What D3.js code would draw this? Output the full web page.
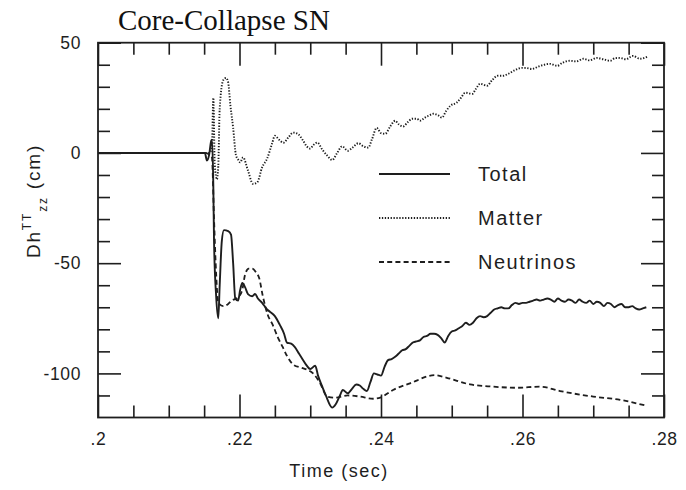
<!DOCTYPE html>
<html>
<head>
<meta charset="utf-8">
<script src="https://cdn.jsdelivr.net/npm/d3@7"></script>
<style>
  body { margin: 0; background: #fff; }
  svg { display: block; }
</style>
</head>
<body>
<div id="chart"></div>
<script>
// data (time in sec, Dh in cm)
const totalT = [0.2000, 0.2144, 0.2151, 0.2154, 0.2157, 0.2160, 0.2161, 0.2163, 0.2164, 0.2167, 0.2170, 0.2172, 0.2175, 0.2178,
  0.2184, 0.2188, 0.2191, 0.2194, 0.2198, 0.2201, 0.2204, 0.2208, 0.2212, 0.2218, 0.2222, 0.2226, 0.2232, 0.2239, 0.2243,
  0.2250, 0.2257, 0.2263, 0.2267, 0.2273, 0.2278, 0.2284, 0.2288, 0.2294, 0.2300, 0.2307, 0.2311, 0.2317, 0.2322, 0.2331,
  0.2336, 0.2342, 0.2346, 0.2353, 0.2359, 0.2365,
  0.2370, 0.2375, 0.2380, 0.2385, 0.2390, 0.2395, 0.2400, 0.2405, 0.2410, 0.2415, 0.2420, 0.2425, 0.2430, 0.2435, 0.2440,
  0.2445, 0.2450, 0.2455, 0.2460, 0.2465, 0.2470, 0.2475, 0.2480, 0.2485, 0.2490, 0.2495, 0.2500, 0.2505, 0.2510, 0.2515,
  0.2520, 0.2525, 0.2530, 0.2535, 0.2540, 0.2545, 0.2550, 0.2555, 0.2560, 0.2565, 0.2570, 0.2575, 0.2580, 0.2585, 0.2590,
  0.2595, 0.2600, 0.2605, 0.2610, 0.2615, 0.2620, 0.2625, 0.2630, 0.2635, 0.2640, 0.2645, 0.2650, 0.2655, 0.2660, 0.2665,
  0.2670, 0.2675, 0.2680, 0.2685, 0.2690, 0.2695, 0.2700, 0.2705, 0.2710, 0.2715, 0.2720, 0.2725, 0.2730, 0.2735, 0.2740,
  0.2745, 0.2750, 0.2755, 0.2760, 0.2765, 0.2770, 0.2775];
const totalV = [0, 0, 0, -3.5, -1, 5.5, 6, -15, -40, -65, -75, -60, -40, -35,
  -35.5, -37, -50, -66, -67, -62, -59, -61, -64, -65, -64, -66, -68, -71, -72,
  -74, -78, -82, -86, -86.5, -88, -91, -93, -96, -98, -96.5, -101, -106, -110, -115.5,
  -114, -110, -107.5, -109, -107, -105,
  -105.5, -107, -108, -104, -100, -100.5, -101, -97, -94, -93.5, -92.5, -91, -89.5, -89, -87.5,
  -86, -85.5, -85, -83.5, -83, -82, -82, -82.5, -84, -86, -83, -81, -80.5, -79.5, -78.5,
  -77, -78, -77, -75, -74, -74.5, -74, -72.5, -71, -70.5, -70, -70.5, -70.5, -69, -68,
  -68.5, -68, -68, -67.5, -67, -66.5, -67, -66.5, -66, -66.5, -67.5, -66, -67, -67.5, -66.5,
  -67, -68, -66.5, -67.5, -68, -67, -68.5, -67.5, -68, -69.5, -68, -68.5, -70, -69, -68.5,
  -70, -70, -69.5, -70.5, -71, -70.5, -70];

const matterT = [0.2000, 0.2151, 0.2157, 0.2161, 0.2163, 0.2165, 0.2168, 0.2170, 0.2172, 0.2177, 0.2181, 0.2184, 0.2187,
  0.2191, 0.2195, 0.2198, 0.2201, 0.2205, 0.2212, 0.2219, 0.2225, 0.2232, 0.2239, 0.2246, 0.2250, 0.2256, 0.2262, 0.2269,
  0.2276, 0.2283, 0.2290, 0.2295, 0.2300, 0.2304, 0.2310, 0.2317, 0.2324, 0.2331, 0.2338, 0.2345, 0.2353, 0.2360, 0.2368,
  0.2375, 0.2382, 0.2387, 0.2394, 0.2400, 0.2406, 0.2413, 0.2420, 0.2425, 0.2431, 0.2438, 0.2444, 0.2451, 0.2455, 0.2462,
  0.2468, 0.2474, 0.2481, 0.2486, 0.2492, 0.2498, 0.2507, 0.2513, 0.2519, 0.2529, 0.2534, 0.2540, 0.2550, 0.2557, 0.2565,
  0.2572, 0.2580, 0.2589, 0.2599, 0.2606, 0.2613, 0.2625, 0.2639, 0.2649, 0.2657, 0.2667, 0.2676, 0.2686, 0.2695, 0.2705,
  0.2714, 0.2724, 0.2731, 0.2738, 0.2746, 0.2756, 0.2766, 0.2776];
const matterV = [0, 0, 0, 2, 25, -5, -12, -6, 20, 33, 34, 32, 22,
  11.5, -1, -3, -4.3, -2, -8, -14, -13.4, -6.5, -2.6, 4.2, 7.8, 6, 4.6, 7,
  9.2, 8.5, 5.5, 3, 2, 3.5, 4.7, 1.5, -1.2, -3.2, 0, 3, 1, 2.5, 4.4,
  3, 2.4, 6, 11.4, 9, 8.7, 12, 14.6, 13, 12, 14, 15.5, 15.5, 14.6, 16,
  17, 17.8, 17, 16, 19, 21.4, 22.8, 25, 27.3, 26.8, 29, 31.4, 30.5, 33, 35,
  35, 35.9, 37.5, 38.6, 38.5, 38.1, 39.5, 40.4, 39.5, 41, 41.8, 41.5, 42.7, 42, 43.1,
  42.5, 41.8, 43, 43.1, 42.5, 44, 42.7, 43.6];

const neutrinoT = [0.2000, 0.2151, 0.2161, 0.2164, 0.2167, 0.2170, 0.2177, 0.2184, 0.2189, 0.2198, 0.2204, 0.2208, 0.2213,
  0.2218, 0.2223, 0.2228, 0.2233, 0.2240, 0.2247, 0.2254, 0.2261, 0.2267, 0.2276, 0.2288, 0.2297, 0.2304, 0.2314, 0.2324,
  0.2335, 0.2353, 0.2370, 0.2389, 0.2399, 0.2417, 0.2441, 0.2476, 0.2493, 0.2526, 0.2558, 0.2592, 0.2625, 0.2653, 0.2700,
  0.2738, 0.2773];
const neutrinoV = [0, 0, -2, -30, -55, -68, -69.5, -68.5, -67, -65.5, -62, -55, -52.5,
  -52.5, -54, -57, -65, -73.5, -78, -83.5, -88, -92, -96, -97.5, -98.5, -100, -104.5, -110.5,
  -111, -110, -110.5, -111.5, -111, -107.5, -104.5, -100.8, -102, -105, -106, -106.5, -106, -108, -110.5,
  -112, -114.5];

const seriesNames = ["Total", "Matter", "Neutrinos"];
const xMajor = [0.2, 0.22, 0.24, 0.26, 0.28];
const xLabels = [".2", ".22", ".24", ".26", ".28"];
const xMinor = [0.205, 0.21, 0.215, 0.225, 0.23, 0.235, 0.245, 0.25, 0.255, 0.265, 0.27, 0.275];
const yMajor = [50, 0, -50, -100];
const yLabels = ["50", "0", "-50", "-100"];
const yMinor = [40, 30, 20, 10, -10, -20, -30, -40, -60, -70, -80, -90, -110];

const W = 686, H = 490;
const margin = {top: 42.7, right: 22, bottom: 72.5, left: 98};
const ink = "#1e1e1e";

const svg = d3.select("#chart").append("svg")
    .attr("width", W)
    .attr("height", H);

let x = d3.scaleLinear().domain([0.2, 0.28]).range([margin.left, W - margin.right]);
let y = d3.scaleLinear().domain([-120, 50]).range([H - margin.bottom, margin.top]);

// ticks, all pointing inwards
function tickAxis(axisFn, scale, vals, size, labels, pad) {
    let a = axisFn(scale).tickValues(vals).tickSizeInner(-size).tickSizeOuter(0).tickPadding(pad || 0);
    if (labels) a.tickFormat((d, i) => labels[i]);
    else a.tickFormat("");
    return a;
}

const axes = [
    [d3.axisBottom, x, `translate(0,${y(-120)})`, xMajor, xMinor, xLabels, 15],
    [d3.axisTop, x, `translate(0,${y(50)})`, xMajor, xMinor, null],
    [d3.axisLeft, y, `translate(${x(0.2)},0)`, yMajor, yMinor, yLabels, 17],
    [d3.axisRight, y, `translate(${x(0.28)},0)`, yMajor, yMinor, null]
];
axes.forEach(a => {
    let gMaj = svg.append("g").attr("transform", a[2])
        .call(tickAxis(a[0], a[1], a[3], 23, a[5], a[6]));
    let gMin = svg.append("g").attr("transform", a[2])
        .call(tickAxis(a[0], a[1], a[4], 12, null));
    [gMaj, gMin].forEach(g => {
        g.select(".domain").remove();
        g.selectAll("line").attr("stroke", ink).attr("stroke-width", 1.6);
        g.selectAll("text")
            .attr("fill", ink)
            .style("font-family", "Liberation Sans, Arial, sans-serif")
            .style("font-size", "17.5px")
            .style("letter-spacing", "0.6px");
    });
});

svg.append("rect")
    .attr("x", x(0.2)).attr("y", y(50))
    .attr("width", x(0.28) - x(0.2))
    .attr("height", y(-120) - y(50))
    .attr("fill", "none")
    .attr("stroke", ink)
    .attr("stroke-width", 1.8);

const line = d3.line()
    .x(d => x(d[0]))
    .y(d => y(d[1]))
    .curve(d3.curveMonotoneX);

const series = [
    {name: seriesNames[0], t: totalT, v: totalV, dash: null, w: 1.9},
    {name: seriesNames[1], t: matterT, v: matterV, dash: "1.3,1.6", w: 1.9},
    {name: seriesNames[2], t: neutrinoT, v: neutrinoV, dash: "5,3.2", w: 1.8}
];

series.forEach(s => {
    let pts = s.t.map((t, i) => [t, s.v[i]]);
    svg.append("path")
        .datum(pts)
        .attr("d", line)
        .attr("fill", "none")
        .attr("stroke", ink)
        .attr("stroke-width", s.w)
        .attr("stroke-dasharray", s.dash);
});

// legend
let legend = svg.append("g");
series.forEach((s, i) => {
    let ly = 174 + i * 44;
    legend.append("line")
        .attr("x1", 379).attr("x2", 450)
        .attr("y1", ly).attr("y2", ly)
        .attr("stroke", ink)
        .attr("stroke-width", s.w)
        .attr("stroke-dasharray", s.dash);
    legend.append("text")
        .attr("x", 478).attr("y", ly)
        .attr("dy", "0.36em")
        .attr("fill", ink)
        .style("font-family", "Liberation Sans, Arial, sans-serif")
        .style("font-size", "20px")
        .style("letter-spacing", "1.5px")
        .text(s.name);
});

// axis titles
svg.append("text")
    .attr("x", 339).attr("y", 477)
    .attr("text-anchor", "middle")
    .attr("fill", ink)
    .style("font-family", "Liberation Sans, Arial, sans-serif")
    .style("font-size", "18px")
    .style("letter-spacing", "1.5px")
    .text("Time (sec)");

let ylab = svg.append("text")
    .attr("transform", "translate(40,201) rotate(-90)")
    .attr("text-anchor", "middle")
    .attr("fill", ink)
    .style("font-family", "Liberation Sans, Arial, sans-serif")
    .style("font-size", "19px")
    .style("letter-spacing", "1.8px");
ylab.append("tspan").text("Dh");
ylab.append("tspan").attr("dy", -9).style("font-size", "12px").text("TT");
ylab.append("tspan").attr("dy", 16).style("font-size", "12px").text("zz");
ylab.append("tspan").attr("dy", -7).text(" (cm)");

svg.append("text")
    .attr("x", 118).attr("y", 30)
    .attr("fill", "#111")
    .style("font-family", "Liberation Serif, serif")
    .style("font-size", "29px")
    .text("Core-Collapse SN");
</script>
</body>
</html>
